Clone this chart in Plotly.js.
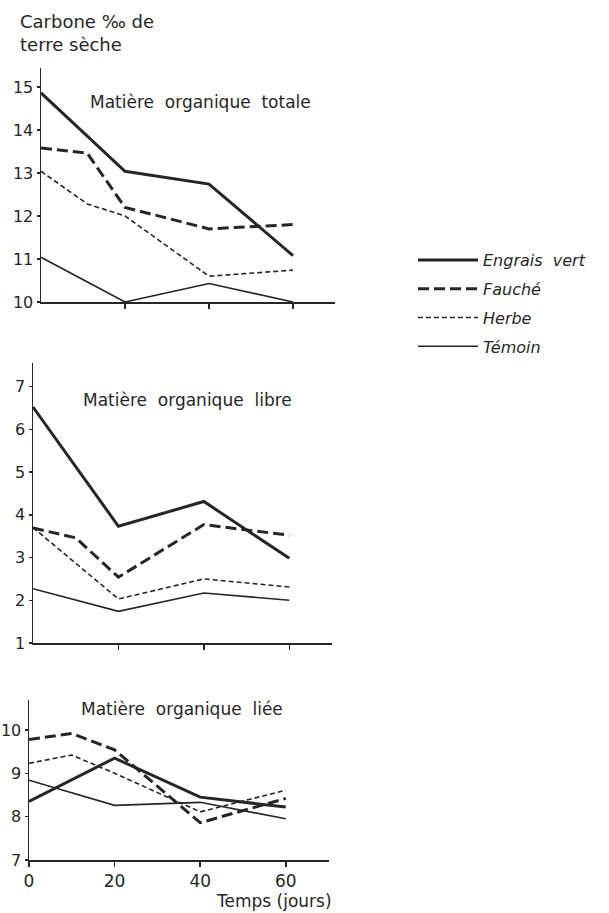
<!DOCTYPE html>
<html>
<head>
<meta charset="utf-8">
<script src="https://cdn.plot.ly/plotly-3.0.1.min.js"></script>
<style>html,body{margin:0;padding:0;background:#fff;}#chart{width:609px;height:913px;}</style>
</head>
<body>
<div id="chart"></div>
<script>
// ---- Data ----
const seriesNames = ["Engrais\u00a0 vert", "Fauché", "Herbe", "Témoin"];
const days = [0, 20, 40, 60];

// Matière organique totale
const totEngraisY = [14.86, 13.04, 12.74, 11.08];
const totFaucheX = [0, 11, 20, 40, 60];
const totFaucheY = [13.58, 13.46, 12.2, 11.7, 11.8];
const totHerbeX = [0, 11, 20, 40, 60];
const totHerbeY = [13.04, 12.28, 12.0, 10.6, 10.74];
const totTemoinY = [11.04, 10.0, 10.43, 10.0];

// Matière organique libre
const libEngraisY = [6.52, 3.73, 4.31, 2.98];
const libFaucheX = [0, 10, 20, 40, 60];
const libFaucheY = [3.69, 3.46, 2.54, 3.77, 3.52];
const libHerbeY = [3.7, 2.03, 2.5, 2.31];
const libTemoinY = [2.27, 1.74, 2.17, 2.0];

// Matière organique liée
const lieEngraisY = [8.35, 9.35, 8.45, 8.22];
const lieFaucheX = [0, 10, 20, 40, 60];
const lieFaucheY = [9.78, 9.92, 9.54, 7.86, 8.42];
const lieHerbeX = [0, 10, 20, 40, 60];
const lieHerbeY = [9.23, 9.42, 9.0, 8.11, 8.61];
const lieTemoinY = [8.84, 8.26, 8.33, 7.95];

const xTickVals = [0, 20, 40, 60];
const xTickText = ["0", "20", "40", "60"];
const panelTitles = ["Matière\u00a0 organique\u00a0 totale", "Matière\u00a0 organique\u00a0 libre", "Matière\u00a0 organique\u00a0 liée"];

// ---- Styles ----
const ink = "#262626";
const styles = [
  {color: ink, width: 3, dash: "solid"},
  {color: ink, width: 3, dash: "11px,5px"},
  {color: ink, width: 1.6, dash: "5px,3px"},
  {color: ink, width: 1.6, dash: "solid"}
];

function tr(x, y, i, axis, show) {
  return {
    x: x, y: y, type: "scatter", mode: "lines",
    name: seriesNames[i], legendgroup: "g" + i, showlegend: show,
    line: styles[i], xaxis: "x" + axis, yaxis: "y" + axis,
    cliponaxis: false, hoverinfo: "skip"
  };
}

const data = [
  tr(days, totEngraisY, 0, "", true),
  tr(totFaucheX, totFaucheY, 1, "", true),
  tr(totHerbeX, totHerbeY, 2, "", true),
  tr(days, totTemoinY, 3, "", true),
  tr(days, libEngraisY, 0, "2", false),
  tr(libFaucheX, libFaucheY, 1, "2", false),
  tr(days, libHerbeY, 2, "2", false),
  tr(days, libTemoinY, 3, "2", false),
  tr(days, lieEngraisY, 0, "3", false),
  tr(lieFaucheX, lieFaucheY, 1, "3", false),
  tr(lieHerbeX, lieHerbeY, 2, "3", false),
  tr(days, lieTemoinY, 3, "3", false)
];

const W = 609, H = 913;
const px = v => v / W;
const py = v => 1 - v / H;
const font = {family: "DejaVu Sans, sans-serif", size: 17, color: ink};
const tickFont = {family: "DejaVu Sans, sans-serif", size: 16, color: ink};

function xax(l, r, anchor, labels) {
  return {
    domain: [px(l), px(r)], range: [0, 70], anchor: anchor,
    showgrid: false, zeroline: false, showline: true, linecolor: ink, linewidth: 1.5,
    ticks: "outside", ticklen: 5, tickwidth: 1.5, tickcolor: ink,
    tickvals: labels ? xTickVals : [20, 40, 60],
    ticktext: labels ? xTickText : ["", "", ""],
    showticklabels: labels, tickfont: font, fixedrange: true
  };
}
function yax(bottom, top, r0, r1, anchor, vals) {
  return {
    domain: [py(bottom), py(top)], range: [r0, r1], anchor: anchor,
    showgrid: false, zeroline: false, showline: true, linecolor: ink, linewidth: 1.5,
    ticks: "outside", ticklen: 3, tickwidth: 1.5, tickcolor: ink,
    tickvals: vals, tickfont: tickFont, fixedrange: true
  };
}

const layout = {
  width: W, height: H,
  margin: {l: 0, r: 0, t: 0, b: 0},
  paper_bgcolor: "#fff", plot_bgcolor: "rgba(0,0,0,0)",
  font: font,
  showlegend: true,
  legend: {
    x: px(413), y: py(243), xanchor: "left", yanchor: "top",
    font: {family: "DejaVu Sans, sans-serif", size: 16, style: "italic", color: ink},
    itemwidth: 60, tracegroupgap: 5, bgcolor: "rgba(0,0,0,0)"
  },
  xaxis: xax(41, 335, "y", false),
  yaxis: yax(302, 68, 10, 15.44, "x", [10, 11, 12, 13, 14, 15]),
  xaxis2: xax(33, 332, "y2", false),
  yaxis2: yax(643, 363, 1, 7.55, "x2", [1, 2, 3, 4, 5, 6, 7]),
  xaxis3: xax(29, 328.6, "y3", true),
  yaxis3: yax(860, 700, 7, 10.69, "x3", [7, 8, 9, 10]),
  annotations: [
    {text: "Carbone ‰ de<br>terre sèche", xref: "paper", yref: "paper", x: px(18), y: py(9),
     xanchor: "left", yanchor: "top", align: "left", showarrow: false,
     font: {family: "DejaVu Sans, sans-serif", size: 18, color: ink}},
    {text: panelTitles[0], xref: "paper", yref: "paper", x: px(200), y: py(102),
     xanchor: "center", yanchor: "middle", showarrow: false, font: font},
    {text: panelTitles[1], xref: "paper", yref: "paper", x: px(187), y: py(400),
     xanchor: "center", yanchor: "middle", showarrow: false, font: font},
    {text: panelTitles[2], xref: "paper", yref: "paper", x: px(182), y: py(709),
     xanchor: "center", yanchor: "middle", showarrow: false, font: font},
    {text: "Temps (jours)", xref: "paper", yref: "paper", x: px(334), y: py(901),
     xanchor: "right", yanchor: "middle", showarrow: false, font: font}
  ]
};

Plotly.newPlot("chart", data, layout, {staticPlot: true, displayModeBar: false});
</script>
</body>
</html>
